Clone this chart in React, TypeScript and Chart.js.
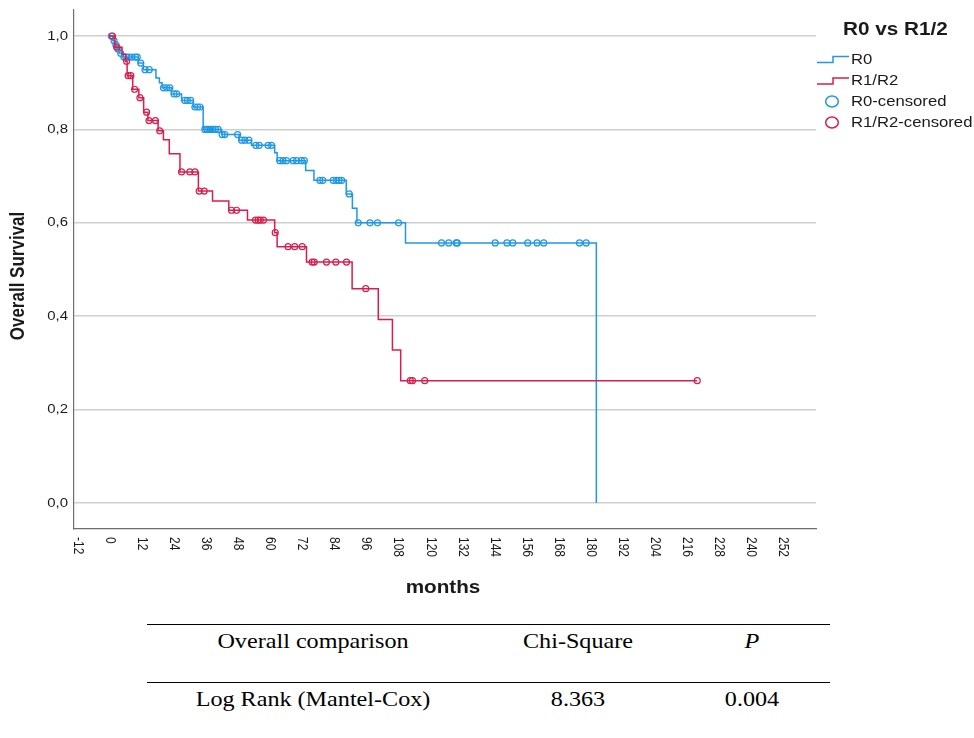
import React, { useEffect, useRef } from "react";
import { Chart, registerables } from "chart.js";

Chart.register(...registerables);

// ---- data ----
const xTickValues = [-12, 0, 12, 24, 36, 48, 60, 72, 84, 96, 108, 120, 132, 144, 156, 168, 180, 192, 204, 216, 228, 240, 252];
const yTickValues = [0, 0.2, 0.4, 0.6, 0.8, 1.0];

const r0StepTimes = [0, 1.0, 1.8, 2.6, 3.5, 4.5, 10.6, 12.5, 17.2, 18.5, 19.5, 23.0, 26.8, 31.2, 34.9, 41.8, 48.4, 53.0, 61.7, 62.6, 73.3, 76.4, 88.5, 90.8, 92.5, 110.7, 182.2];
const r0StepSurv = [1.0, 0.990, 0.981, 0.972, 0.963, 0.955, 0.942, 0.928, 0.910, 0.900, 0.889, 0.876, 0.862, 0.848, 0.800, 0.789, 0.777, 0.766, 0.750, 0.733, 0.712, 0.691, 0.662, 0.631, 0.600, 0.557, 0.0];

const r0CensorTimes = [0.5, 1.5, 2.2, 3.0, 4.0, 5.2, 6.0, 7.0, 8.2, 9.5, 10.2, 11.5, 13.1, 14.7, 20.0, 21.2, 22.4, 24.0, 25.0, 28.0, 29.0, 30.2, 31.8, 32.8, 33.7, 35.5, 36.3, 37.0, 37.8, 38.6, 39.5, 40.5, 42.0, 43.0, 47.8, 49.3, 50.5, 52.0, 54.6, 55.9, 59.2, 60.5, 63.6, 64.8, 66.1, 68.6, 69.9, 71.7, 72.8, 78.6, 79.7, 83.6, 84.8, 85.8, 86.8, 89.6, 93.0, 97.4, 100.2, 108.1, 124.2, 126.9, 129.7, 130.1, 144.3, 148.7, 150.9, 156.5, 160.0, 162.5, 175.9, 178.4];
const r0CensorSurv = [1.0, 0.990, 0.981, 0.972, 0.963, 0.955, 0.955, 0.955, 0.955, 0.955, 0.955, 0.942, 0.928, 0.928, 0.889, 0.889, 0.889, 0.876, 0.876, 0.862, 0.862, 0.862, 0.848, 0.848, 0.848, 0.800, 0.800, 0.800, 0.800, 0.800, 0.800, 0.800, 0.789, 0.789, 0.789, 0.777, 0.777, 0.777, 0.766, 0.766, 0.766, 0.766, 0.733, 0.733, 0.733, 0.733, 0.733, 0.733, 0.733, 0.691, 0.691, 0.691, 0.691, 0.691, 0.691, 0.662, 0.600, 0.600, 0.600, 0.600, 0.557, 0.557, 0.557, 0.557, 0.557, 0.557, 0.557, 0.557, 0.557, 0.557, 0.557, 0.557];

const r12StepTimes = [0, 1.8, 4.5, 5.8, 6.4, 8.5, 10.8, 12.6, 14.2, 18.0, 20.0, 22.2, 26.2, 33.1, 38.4, 44.5, 51.5, 61.7, 62.6, 73.6, 90.7, 100.5, 105.8, 108.9, 220.0];
const r12StepSurv = [1.0, 0.976, 0.961, 0.946, 0.915, 0.886, 0.868, 0.837, 0.819, 0.797, 0.778, 0.748, 0.709, 0.668, 0.647, 0.627, 0.606, 0.579, 0.549, 0.516, 0.459, 0.393, 0.328, 0.262, 0.262];

const r12CensorTimes = [0.9, 2.5, 6.2, 6.8, 7.8, 9.2, 11.2, 13.7, 14.6, 17.0, 18.6, 26.8, 29.9, 31.8, 33.4, 35.3, 45.5, 47.4, 54.5, 55.5, 56.3, 57.5, 61.9, 66.7, 69.2, 72.0, 75.7, 76.5, 81.1, 84.6, 88.6, 95.8, 112.5, 113.3, 117.9, 220.0];
const r12CensorSurv = [1.0, 0.976, 0.946, 0.915, 0.915, 0.886, 0.868, 0.837, 0.819, 0.819, 0.797, 0.709, 0.709, 0.709, 0.668, 0.668, 0.627, 0.627, 0.606, 0.606, 0.606, 0.606, 0.579, 0.549, 0.549, 0.549, 0.516, 0.516, 0.516, 0.516, 0.516, 0.459, 0.262, 0.262, 0.262, 0.262];

const legendTitle = "R0 vs R1/2";
const legendLabels = ["R0", "R1/R2", "R0-censored", "R1/R2-censored"];
const xTitle = "months";
const yTitle = "Overall Survival";

const tableHeader = ["Overall comparison", "Chi-Square", "P"];
const tableRow = ["Log Rank (Mantel-Cox)", "8.363", "0.004"];

// ---- styles ----
const BLUE = "#1f98e6";
const RED = "#d81e4e";
const SX = 1.15;
const SANS = '"Liberation Sans", Arial, sans-serif';
const TEXT = "#1a1a1a";

const zip = (a: number[], b: number[]) => a.map((x, i) => ({ x, y: b[i] }));

function drawText(ctx: CanvasRenderingContext2D, s: string, x: number, y: number, font: string, align: CanvasTextAlign, baseline: CanvasTextBaseline, rot = 0) {
  ctx.save();
  ctx.translate(x, y);
  ctx.scale(SX, 1);
  if (rot) ctx.rotate(rot);
  ctx.font = font;
  ctx.textAlign = align;
  ctx.textBaseline = baseline;
  ctx.fillStyle = TEXT;
  ctx.fillText(s, 0, 0);
  ctx.restore();
}

const textPlugin = {
  id: "textPlugin",
  afterDraw(chart: any) {
    const ctx: CanvasRenderingContext2D = chart.ctx;
    const xs = chart.scales.x;
    const ys = chart.scales.y;
    const area = chart.chartArea;
    // y tick labels
    yTickValues.forEach((v) => {
      const y = ys.getPixelForValue(v);
      drawText(ctx, v.toFixed(1).replace(".", ","), area.left - 6, y, `13px ${SANS}`, "right", "middle");
    });
    // x tick labels rotated clockwise
    xTickValues.forEach((v) => {
      const x = xs.getPixelForValue(v);
      drawText(ctx, String(v), x, area.bottom + 8, `12px ${SANS}`, "left", "middle", Math.PI / 2);
    });
    // axis titles
    drawText(ctx, xTitle, (area.left + area.right) / 2 - 2, 588, `bold 18px ${SANS}`, "center", "middle");
    drawText(ctx, yTitle, 19, 276, `bold 17px ${SANS}`, "center", "middle", -Math.PI / 2);
    // legend
    drawText(ctx, legendTitle, 843, 30, `bold 18px ${SANS}`, "left", "middle");
    const rowsY = [59.5, 81, 101.5, 122.5];
    const colors = [BLUE, RED, BLUE, RED];
    ctx.save();
    ctx.lineWidth = 1.5;
    for (let i = 0; i < 2; i++) {
      const y = rowsY[i];
      ctx.strokeStyle = colors[i];
      ctx.beginPath();
      ctx.moveTo(817, y + 3);
      ctx.lineTo(833, y + 3);
      ctx.lineTo(833, y - 3);
      ctx.lineTo(849, y - 3);
      ctx.stroke();
    }
    for (let i = 2; i < 4; i++) {
      const y = rowsY[i];
      ctx.strokeStyle = colors[i];
      ctx.beginPath();
      ctx.ellipse(832, y, 6.3, 5.5, 0, 0, Math.PI * 2);
      ctx.stroke();
    }
    ctx.restore();
    legendLabels.forEach((l, i) => {
      drawText(ctx, l, 851, rowsY[i], `14.5px ${SANS}`, "left", "middle");
    });
  },
};

function KMChart() {
  const ref = useRef<HTMLCanvasElement | null>(null);
  useEffect(() => {
    if (!ref.current) return;
    const chart = new Chart(ref.current, {
      type: "scatter",
      data: {
        datasets: [
          {
            data: zip(r12CensorTimes, r12CensorSurv),
            showLine: false,
            pointStyle: "circle",
            pointRadius: 3,
            pointBorderWidth: 1.2,
            pointBorderColor: RED,
            pointBackgroundColor: "rgba(0,0,0,0)",
          } as any,
          {
            data: zip(r12StepTimes, r12StepSurv),
            showLine: true,
            stepped: true,
            borderColor: RED,
            borderWidth: 1.5,
            pointRadius: 0,
            fill: false,
          } as any,
          {
            data: zip(r0CensorTimes, r0CensorSurv),
            showLine: false,
            pointStyle: "circle",
            pointRadius: 3,
            pointBorderWidth: 1.2,
            pointBorderColor: BLUE,
            pointBackgroundColor: "rgba(0,0,0,0)",
          } as any,
          {
            data: zip(r0StepTimes, r0StepSurv),
            showLine: true,
            stepped: true,
            borderColor: BLUE,
            borderWidth: 1.5,
            pointRadius: 0,
            fill: false,
          } as any,
        ],
      },
      options: {
        animation: false,
        responsive: false,
        layout: { padding: { left: 0, right: 158, top: 10, bottom: 0 } },
        plugins: { legend: { display: false }, title: { display: false }, tooltip: { enabled: false } },
        scales: {
          x: {
            type: "linear",
            min: -13.5,
            max: 264.5,
            afterBuildTicks: (s: any) => {
              s.ticks = xTickValues.map((value) => ({ value }));
            },
            afterFit: (s: any) => {
              s.height = 81;
            },
            ticks: { display: false },
            grid: { display: false },
            border: { display: true, color: "#6e6e6e", width: 1.2 },
          },
          y: {
            type: "linear",
            min: -0.0555,
            max: 1.0557,
            afterBuildTicks: (s: any) => {
              s.ticks = yTickValues.map((value) => ({ value }));
            },
            afterFit: (s: any) => {
              s.width = 74;
            },
            ticks: { display: false },
            grid: { color: "#cfcfcf", lineWidth: 1.6, drawTicks: false },
            border: { display: true, color: "#6e6e6e", width: 1.2 },
          },
        },
      },
      plugins: [textPlugin],
    } as any);
    return () => chart.destroy();
  }, []);
  return <canvas ref={ref} width={974} height={610} style={{ position: "absolute", left: 0, top: 0, width: 974, height: 610 }} />;
}

const cellStyle = (x: number, y: number, italic = false): React.CSSProperties => ({
  position: "absolute",
  left: x,
  top: y,
  transform: "translate(-50%, -50%) scaleX(1.15)",
  whiteSpace: "nowrap",
  fontFamily: '"Liberation Serif", "Times New Roman", serif',
  fontSize: 21,
  fontStyle: italic ? "italic" : "normal",
  color: "#000",
  lineHeight: 1,
});

export default function App() {
  const cols = [313, 578, 752];
  return (
    <div style={{ position: "absolute", left: 0, top: 0, width: 974, height: 738, background: "#fff", overflow: "hidden" }}>
      <KMChart />
      <div style={{ position: "absolute", left: 147, top: 624, width: 683, height: 0, borderTop: "1.6px solid #000" }} />
      <div style={{ position: "absolute", left: 147, top: 682, width: 683, height: 0, borderTop: "1.6px solid #000" }} />
      {tableHeader.map((t, i) => (
        <div key={"h" + i} style={cellStyle(cols[i], 641, i === 2)}>{t}</div>
      ))}
      {tableRow.map((t, i) => (
        <div key={"r" + i} style={cellStyle(cols[i], 699)}>{t}</div>
      ))}
    </div>
  );
}
